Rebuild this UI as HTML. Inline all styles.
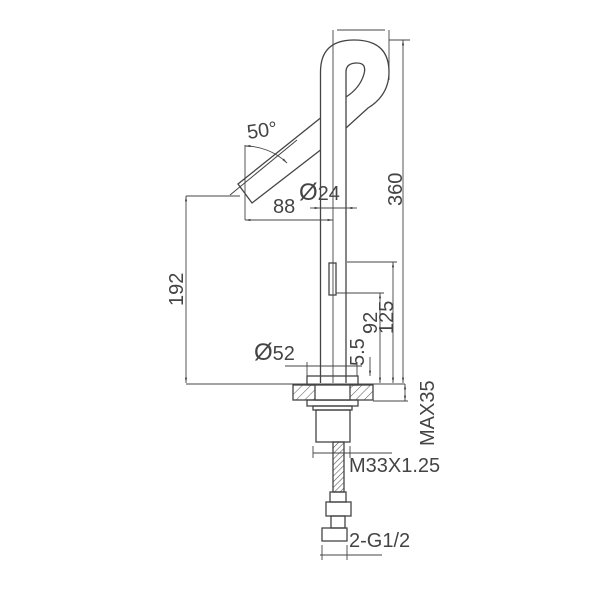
<!DOCTYPE html>
<html><head><style>
html,body{margin:0;padding:0;background:#fff;width:600px;height:600px;overflow:hidden}
text{font-family:"Liberation Sans",sans-serif;fill:#444}
</style></head><body>
<svg width="600" height="600" viewBox="0 0 600 600" xmlns="http://www.w3.org/2000/svg">
<defs>
<pattern id="h" width="6" height="6" patternUnits="userSpaceOnUse" patternTransform="rotate(45)">
<line x1="0" y1="0" x2="0" y2="6" stroke="#555" stroke-width="1"/></pattern>
<pattern id="br" width="4" height="4" patternUnits="userSpaceOnUse" patternTransform="rotate(45)">
<line x1="0" y1="0" x2="0" y2="4" stroke="#555" stroke-width="1.2"/></pattern>
<marker id="a" viewBox="0 0 10 10" refX="10" refY="5" markerWidth="6" markerHeight="6" orient="auto-start-reverse"><path d="M0,3 L10,5 L0,7z" fill="#444"/></marker>
</defs>
<g fill="none" stroke="#444" stroke-width="1.3">
<path d="M320.5,383 V72 Q320.5,40 354,40 Q389,40 389,72 Q389,95 368,108 L346,128"/>
<path d="M346,383 V72 Q346,63 357,63 Q367,63 364,74 Q360,88 346,97"/>
<path d="M320.5,118 L238,184 L252,203 L320.5,150"/>
<line x1="297" y1="140" x2="230" y2="195" stroke-width="1"/>
<rect x="329" y="263" width="7" height="32"/>
<rect x="307" y="376" width="51" height="9"/>
<rect x="293" y="385" width="80" height="15" fill="url(#h)"/>
<rect x="315" y="385" width="35" height="15" fill="#fff"/>
<rect x="307" y="400" width="51" height="6"/>
<rect x="313" y="406" width="39" height="4"/>
<rect x="316" y="410" width="34" height="32"/>
<rect x="333" y="442" width="11" height="50" fill="url(#br)"/>
<rect x="330" y="492" width="16" height="10"/>
<rect x="326" y="502" width="25" height="14"/>
<rect x="331" y="516" width="14" height="12"/>
<rect x="322" y="528" width="25" height="13"/>
</g>
<g fill="none" stroke="#444" stroke-width="0.9">
<line x1="333" y1="30" x2="333" y2="383"/>
<line x1="337" y1="30" x2="385" y2="30"/>
<line x1="389" y1="30" x2="389" y2="80"/>
<line x1="389" y1="40" x2="410" y2="40"/>
<line x1="403" y1="40" x2="403" y2="383" marker-start="url(#a)" marker-end="url(#a)"/>
<line x1="245" y1="145" x2="245" y2="220"/>
<path d="M245,146 A60,60 0 0 1 287,163" marker-start="url(#a)" marker-end="url(#a)"/>
<line x1="245" y1="220" x2="333" y2="220" marker-start="url(#a)" marker-end="url(#a)"/>
<line x1="310" y1="208" x2="320" y2="208" marker-end="url(#a)"/>
<line x1="357" y1="208" x2="347" y2="208" marker-end="url(#a)"/>
<line x1="320" y1="208" x2="347" y2="208"/>
<line x1="186" y1="196" x2="240" y2="196"/>
<line x1="186" y1="196" x2="186" y2="383" marker-start="url(#a)" marker-end="url(#a)"/>
<line x1="186" y1="384" x2="405" y2="384"/>
<line x1="347" y1="262" x2="397" y2="262"/>
<line x1="393" y1="262" x2="393" y2="383" marker-start="url(#a)" marker-end="url(#a)"/>
<line x1="336" y1="293" x2="384" y2="293"/>
<line x1="380" y1="293" x2="380" y2="383" marker-start="url(#a)" marker-end="url(#a)"/>
<line x1="285" y1="366" x2="362" y2="366"/>
<line x1="307" y1="362" x2="307" y2="376"/>
<line x1="357" y1="362" x2="357" y2="376"/>
<line x1="370" y1="357" x2="370" y2="376" marker-end="url(#a)"/>
<line x1="373" y1="401" x2="408" y2="401"/>
<line x1="405" y1="384" x2="405" y2="401" marker-start="url(#a)" marker-end="url(#a)"/>
<line x1="313" y1="453" x2="392" y2="453"/>
<line x1="313" y1="446" x2="313" y2="458"/>
<line x1="350" y1="446" x2="350" y2="458"/>
<line x1="320" y1="555" x2="382" y2="555"/>
<line x1="322" y1="545" x2="322" y2="560"/>
<line x1="347" y1="545" x2="347" y2="560"/>
</g>
<g font-size="20">
<text x="248" y="139" transform="rotate(-8 248 139)">50°</text>
<text x="273" y="213">88</text>
<text x="299" y="200"><tspan font-size="24">Ø</tspan>24</text>
<text x="402" y="206" transform="rotate(-90 402 206)">360</text>
<text x="183" y="306" transform="rotate(-90 183 306)">192</text>
<text x="377" y="334" transform="rotate(-90 377 334)">92</text>
<text x="393" y="334" transform="rotate(-90 393 334)">125</text>
<text x="254" y="360"><tspan font-size="24">Ø</tspan>52</text>
<text x="364" y="366" transform="rotate(-90 364 366)">5.5</text>
<text x="434" y="446" transform="rotate(-90 434 446)">MAX35</text>
<text x="349" y="472">M33X1.25</text>
<text x="349" y="547">2-G1/2</text>
</g>
</svg>
</body></html>
